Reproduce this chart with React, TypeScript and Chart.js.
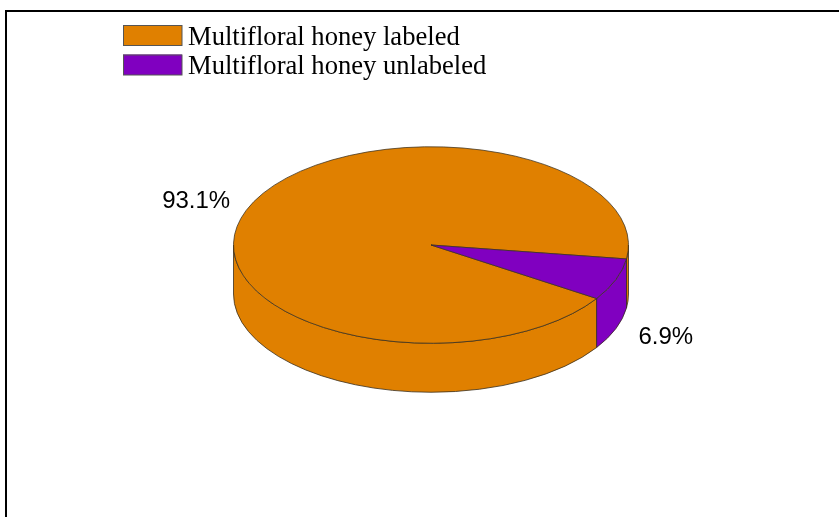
import React, { useEffect, useRef } from "react";
import { Chart, registerables } from "chart.js";

Chart.register(...registerables);

const categories = ["Multifloral honey labeled", "Multifloral honey unlabeled"];
const shares = [93.1, 6.9];
const sliceColors = ["#E08000", "#8000C0"];
const percentLabels = ["93.1%", "6.9%"];

const SQUASH = 0.4975;
const DEPTH = 49;
const EDGE = "#3a3020";

const pie3dPlugin = {
  id: "pie3d",
  beforeDraw(chart: any) {
    const ctx = chart.ctx;
    ctx.save();
    ctx.fillStyle = "#ffffff";
    ctx.fillRect(0, 0, chart.width, chart.height);
    ctx.strokeStyle = "#000";
    ctx.lineWidth = 2;
    ctx.strokeRect(6, 11, 1200, 1200);
    ctx.restore();
  },
  beforeDatasetsDraw(chart: any) {
    const ctx = chart.ctx;
    const meta = chart.getDatasetMeta(0);
    const arcs = meta.data;
    if (!arcs.length) return;
    const cx = arcs[0].x;
    const cy = arcs[0].y;
    const rx = arcs[0].outerRadius;
    const ry = rx * SQUASH;
    ctx.save();
    arcs.forEach((arc: any, i: number) => {
      const s = arc.startAngle;
      const e = arc.endAngle;
      for (let n = -2; n <= 2; n++) {
        const lo = Math.max(s, 2 * Math.PI * n);
        const hi = Math.min(e, 2 * Math.PI * n + Math.PI);
        if (hi <= lo) continue;
        ctx.beginPath();
        ctx.ellipse(cx, cy, rx, ry, 0, lo, hi, false);
        ctx.lineTo(cx + rx * Math.cos(hi), cy + ry * Math.sin(hi) + DEPTH);
        ctx.ellipse(cx, cy + DEPTH, rx, ry, 0, hi, lo, true);
        ctx.closePath();
        ctx.fillStyle = sliceColors[i];
        ctx.fill();
        ctx.strokeStyle = EDGE;
        ctx.lineWidth = 0.8;
        ctx.stroke();
      }
    });
    ctx.restore();
    ctx.save();
    ctx.translate(cx, cy);
    ctx.scale(1, SQUASH);
    ctx.translate(-cx, -cy);
  },
  afterDatasetsDraw(chart: any) {
    const ctx = chart.ctx;
    ctx.restore();
    const meta = chart.getDatasetMeta(0);
    const arcs = meta.data;
    if (!arcs.length) return;
    const cx = arcs[0].x;
    const cy = arcs[0].y;
    const rx = arcs[0].outerRadius;
    const ry = rx * SQUASH;
    ctx.save();
    ctx.fillStyle = "#000";
    ctx.font = "24px 'Liberation Sans', Arial, sans-serif";
    ctx.textAlign = "center";
    ctx.textBaseline = "middle";
    arcs.forEach((arc: any, i: number) => {
      const m = (arc.startAngle + arc.endAngle) / 2;
      const sn = Math.sin(m);
      const x = cx + 1.27 * rx * Math.cos(m);
      const y = cy + 1.26 * ry * sn + (sn > 0 ? DEPTH : 0);
      ctx.fillText(percentLabels[i], x, y);
    });
    ctx.restore();
  },
  afterDraw(chart: any) {
    const ctx = chart.ctx;
    ctx.save();
    const labels = chart.data.labels as string[];
    labels.forEach((lab, i) => {
      const top = 25 + i * 29.5;
      ctx.fillStyle = sliceColors[i];
      ctx.fillRect(123, top, 59, 20.5);
      ctx.strokeStyle = "#555";
      ctx.lineWidth = 1;
      ctx.strokeRect(123.5, top + 0.5, 58.5, 20);
      ctx.fillStyle = "#000";
      ctx.font = "26.6px 'Liberation Serif', 'Times New Roman', serif";
      ctx.textAlign = "left";
      ctx.textBaseline = "alphabetic";
      ctx.fillText(lab, 188, top + 19.5);
    });
    ctx.restore();
  },
};

export default function App() {
  const ref = useRef<HTMLCanvasElement | null>(null);
  useEffect(() => {
    if (!ref.current) return;
    const chart = new Chart(ref.current, {
      type: "pie",
      data: {
        labels: categories,
        datasets: [
          {
            data: shares,
            backgroundColor: sliceColors,
            borderColor: EDGE,
            borderWidth: 1,
          },
        ],
      },
      options: {
        responsive: false,
        animation: false,
        rotation: 123,
        layout: { padding: { left: 233, right: 210, top: 47, bottom: 74 } },
        plugins: {
          legend: { display: false },
          tooltip: { enabled: false },
        },
      },
      plugins: [pie3dPlugin],
    });
    return () => chart.destroy();
  }, []);
  return (
    <div style={{ position: "fixed", left: 0, top: 0, width: 839, height: 517, background: "#fff" }}>
      <canvas ref={ref} width={839} height={517} style={{ display: "block" }} />
    </div>
  );
}
